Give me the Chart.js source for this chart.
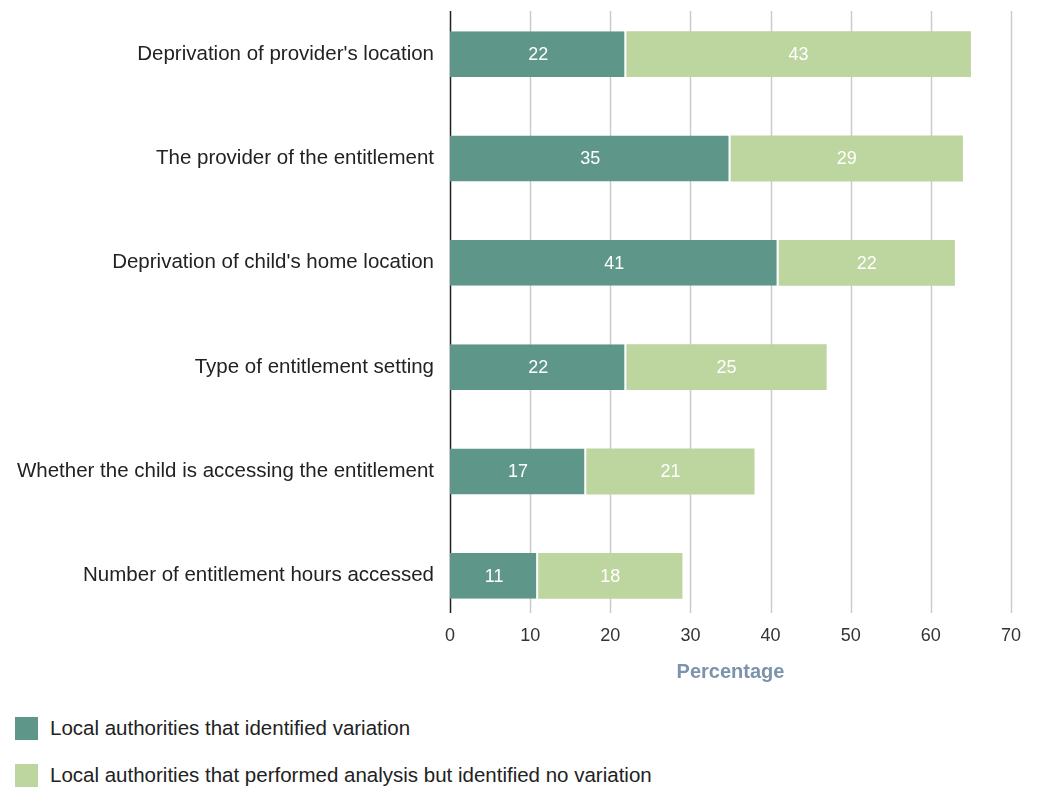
<!DOCTYPE html>
<html>
<head>
<meta charset="utf-8">
<script src="https://cdn.jsdelivr.net/npm/chart.js@4/dist/chart.umd.min.js"></script>
<style>
  body { margin: 0; background: #fff; font-family: "Liberation Sans", Arial, Helvetica, sans-serif; }
  #wrap { position: relative; width: 1037px; height: 690px; }
  .legend-item { position: absolute; left: 15px; display: flex; align-items: center; font-size: 20.5px; color: #222; }
  .legend-box { width: 23px; height: 23px; margin-right: 12px; }
</style>
</head>
<body>
<div id="wrap"><canvas id="chart"></canvas></div>
<div class="legend-item" style="top:716px"><div class="legend-box" style="background:#5e968a"></div>Local authorities that identified variation</div>
<div class="legend-item" style="top:763px"><div class="legend-box" style="background:#bdd59f"></div>Local authorities that performed analysis but identified no variation</div>
<script>
// Categories and series values
const categories = [
    "Deprivation of provider's location",
    "The provider of the entitlement",
    "Deprivation of child's home location",
    "Type of entitlement setting",
    "Whether the child is accessing the entitlement",
    "Number of entitlement hours accessed"
];
const identifiedVariation = [22, 35, 41, 22, 17, 11];
const noVariation = [43, 29, 22, 25, 21, 18];
const xTicks = [0, 10, 20, 30, 40, 50, 60, 70];

// Draws the vertical grid lines and the left axis line, shorter than the chart area
const gridPlugin = {
    id: 'customGrid',
    beforeDatasetsDraw(chart) {
        const ctx = chart.ctx;
        const x = chart.scales.x;
        ctx.save();
        xTicks.forEach(t => {
            const px = Math.round(x.getPixelForValue(t)) + 0.5;
            ctx.beginPath();
            ctx.strokeStyle = t === 0 ? '#222' : '#cccccc';
            ctx.lineWidth = 1.5;
            ctx.moveTo(px, 11);
            ctx.lineTo(px, 613);
            ctx.stroke();
        });
        ctx.restore();
    }
};

// Writes the values inside each bar segment
const valuePlugin = {
    id: 'values',
    afterDatasetsDraw(chart) {
        const ctx = chart.ctx;
        ctx.save();
        ctx.fillStyle = '#ffffff';
        ctx.font = '18px "Liberation Sans", Arial, sans-serif';
        ctx.textAlign = 'center';
        ctx.textBaseline = 'middle';
        chart.data.datasets.forEach((ds, i) => {
            chart.getDatasetMeta(i).data.forEach((bar, j) => {
                const cx = (bar.x + bar.base) / 2;
                ctx.fillText(String(ds.data[j]), cx, bar.y + 1);
            });
        });
        ctx.restore();
    }
};

const ctx = document.getElementById('chart').getContext('2d');
window.chart = new Chart(ctx, {
    type: 'bar',
    data: {
        labels: categories,
        datasets: [{
            label: 'Local authorities that identified variation',
            data: identifiedVariation,
            backgroundColor: '#5e968a',
            borderColor: '#ffffff',
            borderWidth: { top: 0, bottom: 0, left: 0, right: 2 },
            borderSkipped: false,
            barPercentage: 0.44,
            categoryPercentage: 1.0
        }, {
            label: 'Local authorities that performed analysis but identified no variation',
            data: noVariation,
            backgroundColor: '#bdd59f',
            borderWidth: 0,
            barPercentage: 0.44,
            categoryPercentage: 1.0
        }]
    },
    options: {
        indexAxis: 'y',
        responsive: true,
        maintainAspectRatio: false,
        animation: false,
        layout: { padding: { top: 2, right: 26, left: 0, bottom: 0 } },
        plugins: {
            legend: { display: false },
            tooltip: { enabled: false }
        },
        scales: {
            x: {
                stacked: true,
                min: 0,
                max: 70,
                grid: { display: false },
                border: { display: false },
                ticks: {
                    stepSize: 10,
                    color: '#333',
                    padding: -11,
                    font: { size: 18, family: '"Liberation Sans", Arial, sans-serif' }
                },
                title: {
                    display: true,
                    text: 'Percentage',
                    color: '#7b93ab',
                    padding: { top: 4, bottom: 6 },
                    font: { size: 20, weight: 'bold', family: '"Liberation Sans", Arial, sans-serif' }
                },
                afterFit(scale) { scale.height = 62; }
            },
            y: {
                stacked: true,
                grid: { display: false },
                border: { display: false },
                ticks: {
                    color: '#222',
                    padding: 8,
                    font: { size: 20.5, family: '"Liberation Sans", Arial, sans-serif' }
                },
                afterFit(scale) {
                    scale.width = 450;
                    scale.paddingTop = 0;
                    scale.paddingBottom = 0;
                }
            }
        }
    },
    plugins: [gridPlugin, valuePlugin]
});
</script>
</body>
</html>
